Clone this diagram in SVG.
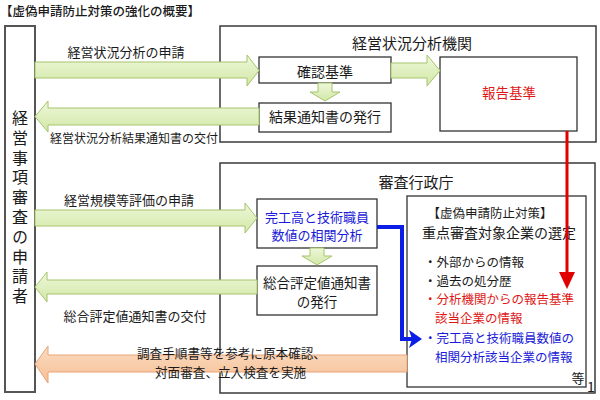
<svg xmlns="http://www.w3.org/2000/svg" width="600" height="400" viewBox="0 0 600 400">
<defs>
<linearGradient id="gg" x1="0" y1="0" x2="0" y2="1">
<stop offset="0" stop-color="#eef7da"/>
<stop offset="1" stop-color="#d2e8a6"/>
</linearGradient>
<linearGradient id="og" x1="0" y1="0" x2="0" y2="1">
<stop offset="0" stop-color="#fbdcc2"/>
<stop offset="1" stop-color="#f6bf94"/>
</linearGradient>
<style>
text{font-family:"Noto Sans CJK JP","Noto Sans",sans-serif;fill:#1a1a1a}
.big{fill:#fff;stroke:#3a3a3a;stroke-width:1.5}
.box{fill:#fff;stroke:#333;stroke-width:1.3}
.ga{fill:url(#gg);stroke:#a6c46c;stroke-width:1}
.oa{fill:url(#og);stroke:#e9a477;stroke-width:1}
.c{text-anchor:middle}
.red{fill:#e01818}
.blue{fill:#1a1ad8}
</style>
</defs>
<rect width="600" height="400" fill="#fff"/>
<text x="0" y="15.5" font-size="12.5" font-weight="500">【虚偽申請防止対策の強化の概要】</text>

<g id="applicant">
<rect x="5" y="26" width="30" height="366" fill="#fff" stroke="#555" stroke-width="2"/>
<text x="20" y="110" font-size="16" writing-mode="vertical-rl" letter-spacing="3.8">経営事項審査の申請者</text>
</g>

<g id="analysis-org">
<rect class="big" x="220" y="26" width="376" height="116"/>
<text x="412" y="49" font-size="15" class="c">経営状況分析機関</text>
</g>

<g id="review-office">
<rect class="big" x="220" y="163" width="375" height="230"/>
<text x="416" y="188" font-size="15" class="c">審査行政庁</text>
</g>

<g id="check-criteria">
<rect class="box" x="259" y="57" width="132" height="26"/>
<text x="325" y="77" font-size="14" class="c">確認基準</text>
</g>

<g id="result-notice">
<rect class="box" x="259" y="103" width="132" height="29"/>
<text x="325" y="122" font-size="14" class="c">結果通知書の発行</text>
</g>

<g id="report-criteria">
<rect class="box" x="440" y="57" width="137" height="74"/>
<text x="509" y="98" font-size="13.5" class="c red">報告基準</text>
</g>

<g id="correlation">
<rect class="box" x="257" y="199" width="120" height="49"/>
<text x="317" y="222" font-size="13" class="c blue">完工高と技術職員</text>
<text x="317" y="240" font-size="13" class="c blue">数値の相関分析</text>
</g>

<g id="score-notice">
<rect class="box" x="257" y="266" width="120" height="49"/>
<text x="317" y="288" font-size="13.5" class="c">総合評定値通知書</text>
<text x="317" y="307" font-size="13.5" class="c">の発行</text>
</g>

<g id="measures">
<rect class="box" x="407" y="196" width="179" height="191"/>
<text x="490" y="218" font-size="12.5" class="c">【虚偽申請防止対策】</text>
<text x="422" y="238" font-size="14">重点審査対象企業の選定</text>
<text x="424" y="267" font-size="12.5">・外部からの情報</text>
<text x="424" y="286" font-size="12.5">・過去の処分歴</text>
<text x="424" y="304" font-size="12.5" class="red">・分析機関からの報告基準</text>
<text x="435" y="323" font-size="12.5" class="red">該当企業の情報</text>
<text x="424" y="343" font-size="12.5" class="blue">・完工高と技術職員数値の</text>
<text x="435" y="362" font-size="12.5" class="blue">相関分析該当企業の情報</text>
<text x="578" y="383" font-size="13" class="c">等</text>
</g>

<g id="connectors">
<polygon class="ga" points="35,62 247,62 247,55 259,70.5 247,86 247,78 35,78"/>
<text x="126" y="57" font-size="13" class="c">経営状況分析の申請</text>
<polygon class="ga" points="35,116.5 48,101 48,108 259,108 259,125 48,125 48,132"/>
<text x="134" y="143" font-size="12" class="c">経営状況分析結果通知書の交付</text>
<polygon class="ga" points="318,83 332,83 332,92 340,92 325,101 310,92 318,92"/>
<polygon class="ga" points="391,63 427,63 427,55 440,70.5 427,86 427,78 391,78"/>
<polygon class="ga" points="35,210 245,210 245,203 257,218 245,233 245,226 35,226"/>
<text x="129" y="205" font-size="13" class="c">経営規模等評価の申請</text>
<polygon class="ga" points="310,248 324,248 324,256 332,256 317,265 302,256 310,256"/>
<polygon class="ga" points="35,287 47,272 47,280 257,280 257,294 47,294 47,302"/>
<text x="135" y="321" font-size="13" class="c">総合評定値通知書の交付</text>
<polygon class="oa" points="35,364 48,346 48,355 407,355 407,372 48,372 48,383"/>
<text x="137" y="358" font-size="12.6">調査手順書等を参考に原本確認、</text>
<text x="155" y="377" font-size="12.6">対面審査、立入検査を実施</text>
<line x1="567" y1="131" x2="567" y2="274" stroke="#e00000" stroke-width="3"/>
<polygon points="559,272 575,272 567,289" fill="#e00000"/>
<polyline points="377,227 402,227 402,339 413,339" fill="none" stroke="#0a1ee6" stroke-width="4"/>
<polygon points="409,330 422,339 409,348 412,339" fill="#0a1ee6"/>
</g>
<text x="587" y="392" font-size="14">1</text>
</svg>
